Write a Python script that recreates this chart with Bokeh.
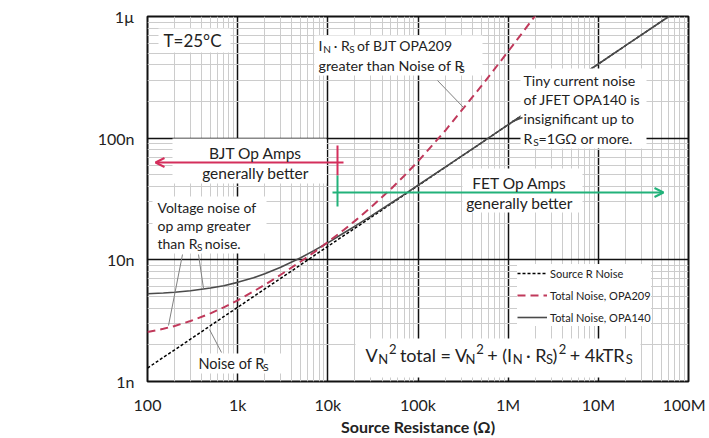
from bokeh.plotting import figure
from bokeh.models import (FixedTicker, CustomJSTickFormatter, Label, BoxAnnotation,
                          Arrow, OpenHead, Legend, LegendItem)
from bokeh.embed import file_html
from bokeh.resources import INLINE

FONT = "Lato"
TXT = "#222222"

# ---------------- data ----------------
r_ohms = [100, 150, 200, 300, 500, 700, 1e3, 1.5e3, 2e3, 3e3, 5e3, 7e3, 1e4, 1.5e4,
          2e4, 3e4, 5e4, 7e4, 1e5, 2e5, 5e5, 1e6, 2e6, 5e6, 1e7, 2e7, 5e7, 1e8]
# noise densities in nV/rtHz
source_r_nv = [1.29, 1.58, 1.82, 2.23, 2.88, 3.41, 4.07, 4.99, 5.76, 7.05, 9.10, 10.8, 12.9, 15.8,
               18.2, 22.3, 28.8, 34.1, 40.7, 57.6, 91.0, 129, 182, 288, 407, 576, 910, 1287]
opa140_nv = [5.26, 5.34, 5.42, 5.57, 5.86, 6.13, 6.53, 7.13, 7.69, 8.70, 10.4, 11.9, 13.8, 16.6,
             18.9, 22.9, 29.2, 34.4, 41.0, 57.8, 91.1, 129, 182, 288, 407, 576, 910, 1287]
r_opa209 = [100, 150, 200, 300, 500, 700, 1e3, 1.5e3, 2e3, 3e3, 5e3, 7e3, 1e4, 1.5e4,
            2e4, 3e4, 5e4, 7e4, 1e5, 2e5, 5e5, 1e6, 2e6]
opa209_nv = [2.55, 2.71, 2.86, 3.14, 3.63, 4.07, 4.65, 5.50, 6.24, 7.54, 9.69, 11.5, 14.0, 17.6,
             20.9, 27.0, 38.2, 48.9, 64.5, 115, 266, 516, 1016]

x_ticks = [1e2, 1e3, 1e4, 1e5, 1e6, 1e7, 1e8]
x_tick_labels = ["100", "1k", "10k", "100k", "1M", "10M", "100M"]
y_ticks = [1e-9, 1e-8, 1e-7, 1e-6]
y_tick_labels = ["1n", "10n", "100n", "1µ"]

series_names = ["Source R Noise", "Total Noise, OPA209", "Total Noise, OPA140"]
x_title = "Source Resistance (Ω)"
y_title = ["Total Noise", "Density V/√Hz"]

# ---------------- figure ----------------
p = figure(width=705, height=438, x_axis_type="log", y_axis_type="log",
           x_range=(1e2, 1e8), y_range=(1e-9, 1e-6),
           output_backend="svg", toolbar_location=None,
           min_border_left=147, min_border_right=17, min_border_top=16, min_border_bottom=57)
p.background_fill_color = "white"
p.border_fill_color = "white"
p.outline_line_color = "#111111"
p.outline_line_width = 2

def minors(lo, hi):
    out = []
    e = lo
    while e < hi:
        out += [k * 10.0 ** e for k in range(2, 10)]
        e += 1
    return out

p.xaxis.ticker = FixedTicker(ticks=x_ticks, minor_ticks=minors(2, 8))
p.yaxis.ticker = FixedTicker(ticks=y_ticks, minor_ticks=minors(-9, -6))
fmt_code = """
for (let i = 0; i < vals.length; i++) {
  if (Math.abs(Math.log10(tick) - Math.log10(vals[i])) < 1e-6) return labs[i];
}
return "";
"""
p.xaxis.formatter = CustomJSTickFormatter(args=dict(vals=x_ticks, labs=x_tick_labels), code=fmt_code)
p.yaxis.formatter = CustomJSTickFormatter(args=dict(vals=y_ticks, labs=y_tick_labels), code=fmt_code)

for ax in (p.xaxis[0], p.yaxis[0]):
    ax.axis_line_color = None
    ax.major_tick_line_color = None
    ax.minor_tick_line_color = None
    ax.major_tick_in = 0
    ax.major_tick_out = 0
    ax.minor_tick_in = 0
    ax.minor_tick_out = 0
    ax.major_label_text_font = FONT
    ax.major_label_text_font_size = "16px"
    ax.major_label_text_color = TXT
p.xaxis.major_label_standoff = 13
p.yaxis.major_label_standoff = 13
p.xaxis.axis_label = x_title
p.xaxis.axis_label_text_font = FONT
p.xaxis.axis_label_text_font_style = "bold"
p.xaxis.axis_label_text_font_size = "16px"
p.xaxis.axis_label_text_color = TXT
p.xaxis.axis_label_standoff = 0

for g in (p.xgrid[0], p.ygrid[0]):
    g.grid_line_color = "#111111"
    g.grid_line_width = 1.5
    g.minor_grid_line_color = "#cccccc"
    g.minor_grid_line_width = 1

# ---------------- curves ----------------
r_src = p.line(r_ohms, [v * 1e-9 for v in source_r_nv], line_color="black",
               line_width=1.5, line_dash="3 2")
r_140 = p.line(r_ohms, [v * 1e-9 for v in opa140_nv], line_color="#4a4a4a", line_width=1.6)
r_209 = p.line(r_opa209, [v * 1e-9 for v in opa209_nv], line_color="#c0395b",
               line_width=2, line_dash="8 5")

# ---------------- annotation helpers (positions in pixel of the picture) ----------------
X0, X1, Y0, Y1 = 147.0, 688.0, 381.0, 16.0
def dx(px):
    return 10 ** (2 + 6 * (px - X0) / (X1 - X0))
def dy(py):
    return 10 ** (-9 + 3 * (Y0 - py) / (Y0 - Y1))

W = {' ': .19, '.': .23, ',': .23, '·': .23, '=': .58, '+': .58, '(': .30, ')': .30,
     '²': .38, 'Ω': .78, '°': .35, '-': .35}
W.update(dict(zip("abcdefghijklmnopqrstuvwxyz",
                  [.49, .55, .45, .55, .52, .32, .49, .55, .24, .24, .50, .24, .83, .55, .55,
                   .55, .55, .36, .42, .35, .55, .50, .76, .49, .50, .45])))
W.update(dict(zip("ABCDEFGHIJKLMNOPQRSTUVWXYZ",
                  [.67, .64, .68, .75, .56, .55, .72, .75, .30, .38, .65, .48, .92, .77, .80,
                   .59, .80, .65, .51, .57, .72, .67, 1.0, .64, .61, .61])))
for d in "0123456789":
    W[d] = .58

def tw(s, size):
    return sum(W.get(c, .55) for c in s) * size

def box(x0, x1, y0, y1):
    p.add_layout(BoxAnnotation(left=dx(x0), right=dx(x1), top=dy(y0), bottom=dy(y1),
                               fill_color="white", fill_alpha=1, line_color=None))

def seg(x0, y0, x1, y1, color="#808080", width=1, head=False):
    end = OpenHead(size=9, line_color=color, line_width=width) if head else None
    p.add_layout(Arrow(x_start=dx(x0), y_start=dy(y0), x_end=dx(x1), y_end=dy(y1),
                       line_color=color, line_width=width, end=end))

def label(px, py, text, size, align="left", style="normal", color=TXT):
    p.add_layout(Label(x=dx(px), y=dy(py), text=text, text_font=FONT,
                       text_font_size=f"{size:.1f}px", text_font_style=style,
                       text_align=align, text_baseline="middle", text_color=color))

def rich(px, py, runs, size):
    x = px
    for txt, kind in runs:
        fs = size * 0.72 if kind in ("sub", "sup") else size
        yoff = {"sub": size * 0.25, "sup": -size * 0.33}.get(kind, 0)
        if kind in ("sub", "sup"):
            x += size * 0.04
        lead = len(txt) - len(txt.lstrip(" "))
        label(x + tw(" " * lead, fs), py + yoff, txt.lstrip(" "), fs)
        x += tw(txt, fs)

# white boxes behind the notes
box(158, 230, 28, 52)
box(314, 482, 35, 75)
box(172, 326, 138, 183)
box(462, 582, 168, 212)
box(520, 646, 68, 148)
box(152, 266, 196, 253)
box(194, 282, 353, 373)
box(355, 640, 338, 377)

# arrows and markers
RED, GREEN = "#d42f5c", "#22b27a"
seg(343, 162, 155, 162, RED, 2, head=True)
seg(337, 145, 337, 175, RED, 2)
seg(337, 175, 337, 206, GREEN, 2)
seg(332, 192, 663, 192, GREEN, 2, head=True)

# leader lines
seg(437, 80, 463, 107)
seg(182, 254, 168, 325)
seg(198, 254, 203, 288)
seg(221, 352, 209, 329)
seg(512, 121, 522, 117, "#4a4a4a", 1.4)

# texts
label(163, 40, "T=25°C", 17)
rich(318, 45, [("I", "n"), ("N", "sub"), (" · R", "n"), ("S", "sub"), (" of BJT OPA209", "n")], 14)
rich(318, 65, [("greater than Noise of R", "n"), ("S", "sub")], 14.3)
label(255, 152, "BJT Op Amps", 15.5, align="center")
label(255, 172, "generally better", 15.5, align="center")
label(519, 182, "FET Op Amps", 15.5, align="center")
label(519, 202, "generally better", 15.5, align="center")
label(523, 80, "Tiny current noise", 14.2)
label(523, 99, "of JFET OPA140 is", 14.2)
label(523, 118, "insignificant up to", 14.2)
rich(523, 138, [("R", "n"), ("S", "sub"), ("=1GΩ or more.", "n")], 14.2)
label(157, 207, "Voltage noise of", 14)
label(157, 225, "op amp greater", 14)
rich(157, 243, [("than R", "n"), ("S", "sub"), (" noise.", "n")], 14)
rich(198, 363, [("Noise of R", "n"), ("S", "sub")], 14.5)
rich(365, 354, [("V", "n"), ("N", "sub"), ("2", "sup"), (" total = V", "n"), ("N", "sub"),
                ("2", "sup"), (" + (I", "n"), ("N", "sub"), (" · R", "n"), ("S", "sub"),
                (")", "n"), ("2", "sup"), (" + 4kTR", "n"), ("S", "sub")], 18)

# y axis title
label(69, 185, y_title[0], 16, align="center", style="bold")
label(70, 204, y_title[1], 16, align="center", style="bold")

# legend
legend = Legend(items=[LegendItem(label=series_names[0], renderers=[r_src]),
                       LegendItem(label=series_names[1], renderers=[r_209]),
                       LegendItem(label=series_names[2], renderers=[r_140])],
                location=(370, 55), orientation="vertical",
                background_fill_color="white", background_fill_alpha=1,
                border_line_color=None, padding=6, margin=0, spacing=4,
                label_height=18, glyph_height=18, glyph_width=30, label_standoff=3,
                label_text_font=FONT, label_text_font_size="11px", label_text_color=TXT)
p.add_layout(legend)

open("out.html", "w").write(file_html(p, INLINE))
